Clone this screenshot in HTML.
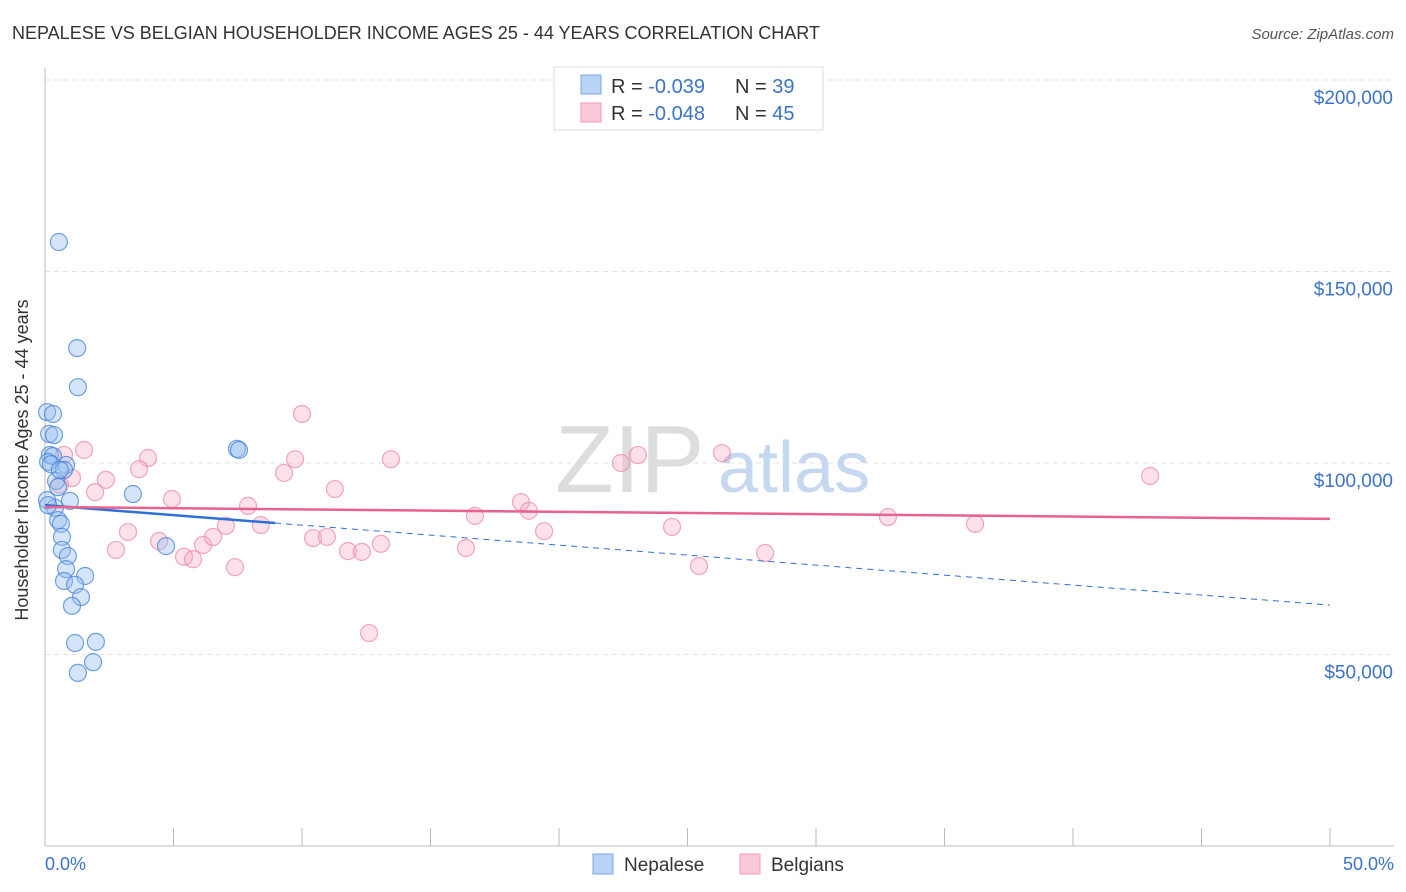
<!DOCTYPE html>
<html><head><meta charset="utf-8"><style>
body{margin:0;background:#fff;font-family:"Liberation Sans",sans-serif;}
svg text{font-family:"Liberation Sans",sans-serif;}
</style></head><body>
<svg id="chart" width="1406" height="892" style="display:block">
<text x="12" y="39" font-size="18" fill="#333">NEPALESE VS BELGIAN HOUSEHOLDER INCOME AGES 25 - 44 YEARS CORRELATION CHART</text>
<text x="1394" y="39" font-size="15" fill="#555" font-style="italic" text-anchor="end">Source: ZipAtlas.com</text>
<g id="grid"></g>
<text x="555" y="492" font-size="96" fill="#ddd" font-family="Liberation Serif">ZIP</text>
<text x="718" y="492" font-size="72" fill="#c5d8f0">atlas</text>
<line x1="45" y1="68" x2="45" y2="846" stroke="#bbb"/>
<line x1="45" y1="846" x2="1394" y2="846" stroke="#bbb"/>
<g id="ticks"></g>
<g id="pts"></g>
<g id="lines"></g>
<text x="24" y="456" font-size="18" fill="#333" text-anchor="middle" transform="rotate(-90 28 456)">Householder Income Ages 25 - 44 years</text>
<text x="45" y="870" font-size="18" fill="#3b73c9">0.0%</text>
<text x="1394" y="870" font-size="18" fill="#3b73c9" text-anchor="end">50.0%</text>
<g>
<rect x="554" y="67" width="269" height="63" fill="#fff" stroke="#ddd"/>
<rect x="581" y="75" width="20" height="19" fill="#b9d3f5" stroke="#7aa7e6"/>
<rect x="581" y="103" width="20" height="19" fill="#fbc9d8" stroke="#f09ab5"/>
<text x="611" y="93" font-size="20" fill="#333">R = <tspan fill="#3b73c9">-0.039</tspan><tspan x="735">N = </tspan><tspan fill="#3b73c9">39</tspan></text>
<text x="611" y="120" font-size="20" fill="#333">R = <tspan fill="#3b73c9">-0.048</tspan><tspan x="735">N = </tspan><tspan fill="#3b73c9">45</tspan></text>
</g>
<g>
<rect x="593" y="854" width="20" height="20" fill="#b9d3f5" stroke="#7aa7e6"/>
<text x="624" y="871" font-size="19" fill="#333">Nepalese</text>
<rect x="740" y="854" width="20" height="20" fill="#fbc9d8" stroke="#f09ab5"/>
<text x="771" y="871" font-size="19" fill="#333">Belgians</text>
</g>
</svg>
<script>
const yTicks=[50000,100000,150000,200000];
const yTickLabels=["$50,000","$100,000","$150,000","$200,000"];
const nepX=[0.54,1.25,1.28,0.08,0.31,0.16,0.35,0.19,0.31,0.12,0.23,0.82,0.74,0.43,0.51,0.97,0.39,3.42,7.47,7.55,0.51,0.62,0.66,0.66,0.89,0.82,0.74,1.56,1.17,1.40,1.05,1.98,1.17,1.87,1.28,4.71,0.08,0.58,0.12];
const nepY=[157.7,130.0,119.8,113.3,112.8,107.6,107.3,102.1,101.8,100.3,99.7,99.5,98.2,95.3,93.7,90.1,88.3,91.9,103.7,103.4,85.1,84.1,80.7,77.3,75.7,72.3,69.2,70.5,68.2,65.0,62.7,53.3,53.0,48.0,45.2,78.3,90.3,98.2,89.0];
const belX=[1.52,4.01,3.66,0.74,1.05,2.37,1.95,0.58,4.94,7.90,3.23,2.76,4.44,5.41,5.76,6.15,6.54,7.04,7.39,8.40,9.30,9.73,10.0,10.43,10.97,11.28,11.79,12.33,13.07,12.61,13.46,16.38,16.73,18.52,18.83,19.42,22.41,23.07,24.40,25.45,26.34,28.02,32.80,36.19,43.00];
const belY=[103.4,101.3,98.4,102.1,96.1,95.6,92.4,94.3,90.6,88.8,82.0,77.3,79.6,75.5,74.9,78.6,80.7,83.6,72.8,83.8,97.4,101.0,112.8,80.4,80.7,93.2,77.0,76.8,78.9,55.6,101.0,77.8,86.2,89.8,87.5,82.2,100.0,102.1,83.3,73.1,102.6,76.5,85.9,84.1,96.6];
const nepTrend=[89.0,62.9]; const nepSolidEnd=8.95;
const belTrend=[88.5,85.4];
const NS="http://www.w3.org/2000/svg";
const X=p=>45+p*25.7;
const Y=v=>846-v/50000*191.5;
const Yk=k=>Y(k*1000);
function mk(t,a,parent){const e=document.createElementNS(NS,t);for(const k in a)e.setAttribute(k,a[k]);parent.appendChild(e);return e;}
const grid=document.getElementById('grid');
yTicks.forEach((v,i)=>{
 const l=mk('line',{x1:45,x2:1394,y1:Y(v),y2:Y(v),stroke:'#e3e3e3','stroke-dasharray':'5,4'},grid);
 
 
 const t=mk('text',{x:1393,y:Y(v)+24,'font-size':19,fill:'#3b73c9','text-anchor':'end'},grid);
 t.textContent=yTickLabels[i];
 
 
});
const ticks=document.getElementById('ticks');
for(let i=0;i<=10;i++){
 const l=mk('line',{x1:X(i*5),x2:X(i*5),y1:828,y2:846,stroke:'#bbb'},ticks);
 
 
}
const pts=document.getElementById('pts');
belX.forEach((x,i)=>{
 const c=mk('circle',{cx:X(x),cy:Yk(belY[i]),r:8.5,fill:'rgba(248,170,195,0.35)',stroke:'rgba(236,130,165,0.7)','stroke-width':1.2},pts);
 
 
});
nepX.forEach((x,i)=>{
 const c=mk('circle',{cx:X(x),cy:Yk(nepY[i]),r:8.5,fill:'rgba(150,190,240,0.4)',stroke:'rgba(70,130,215,0.75)','stroke-width':1.2},pts);
 
 
});
const lines=document.getElementById('lines');
const nAt=p=>nepTrend[0]+(nepTrend[1]-nepTrend[0])*p/50;
let l1=mk('line',{x1:X(0),y1:Yk(nepTrend[0]),x2:X(nepSolidEnd),y2:Yk(nAt(nepSolidEnd)),stroke:'#2f6fd6','stroke-width':2.5},lines);


let l2=mk('line',{x1:X(nepSolidEnd),y1:Yk(nAt(nepSolidEnd)),x2:X(50),y2:Yk(nepTrend[1]),stroke:'#2f6fd6','stroke-width':1,'stroke-dasharray':'6,5'},lines);


let l3=mk('line',{x1:X(0),y1:Yk(belTrend[0]),x2:X(50),y2:Yk(belTrend[1]),stroke:'#e8628e','stroke-width':2.5},lines);


</script>
</body></html>
